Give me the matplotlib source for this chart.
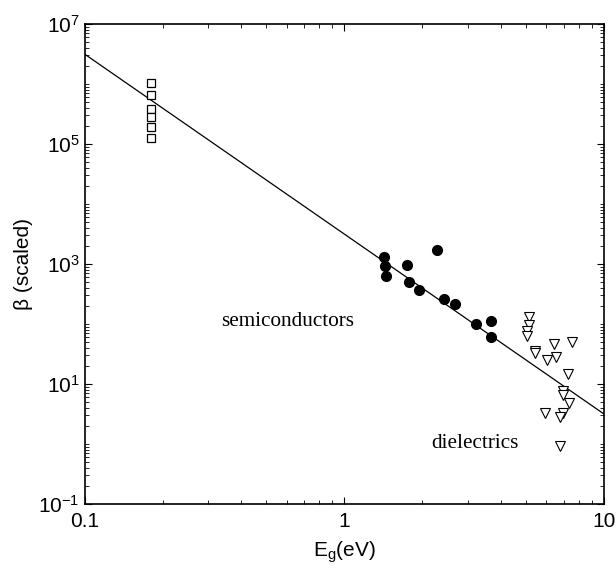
import matplotlib
matplotlib.use("Agg")
import matplotlib.pyplot as plt
from matplotlib.ticker import LogLocator, FixedLocator, NullFormatter, FuncFormatter
import numpy as np

plt.rcParams["font.family"] = ["Liberation Sans", "DejaVu Sans"]
plt.rcParams["mathtext.fontset"] = "custom"
plt.rcParams["mathtext.rm"] = "Liberation Sans"
plt.rcParams["mathtext.it"] = "Liberation Sans"
plt.rcParams["axes.unicode_minus"] = False

# Narrow-gap materials (open squares)
narrow_eg = [0.18, 0.18, 0.18, 0.18, 0.18, 0.18]
narrow_beta = [1.05e6, 6.6e5, 3.9e5, 2.8e5, 1.94e5, 1.27e5]

# Semiconductors (filled circles)
semi_eg = [1.42, 1.435, 1.445, 1.745, 2.27, 1.78, 1.935, 2.43, 2.67, 3.21, 3.66, 3.66]
semi_beta = [1325, 937, 631, 973, 1711, 495, 369, 258, 215, 101, 112, 61.4]

# Dielectrics (open down-triangles)
diel_eg = [5.13, 5.13, 5.04, 5.04, 5.42, 5.42, 6.42, 7.53, 6.02, 6.53,
           7.29, 6.93, 6.97, 7.31, 5.94, 6.97, 6.77, 6.77]
diel_beta = [132, 96, 77, 64, 35.9, 32.5, 45.9, 49.5, 25.1, 27.9,
             14.7, 7.73, 6.56, 4.88, 3.25, 3.25, 2.79, 0.93]

# Power-law fit: beta = A * Eg^n
fit_A = 3.16e3
fit_n = -3.0
fit_range = [0.1, 10]

fig = plt.figure(figsize=(6.16, 5.72), dpi=100)
ax = fig.add_axes([84.5 / 616, (572 - 504) / 572, (604 - 84.5) / 616, (504 - 24) / 572])

xf = np.logspace(np.log10(fit_range[0]), np.log10(fit_range[1]), 50)
ax.plot(xf, fit_A * xf ** fit_n, color="black", lw=0.9)

ax.plot(narrow_eg, narrow_beta, ls="none", marker="s", ms=6, mfc="white", mec="black", mew=0.9)
ax.plot(semi_eg, semi_beta, ls="none", marker="o", ms=7, mfc="black", mec="black")
ax.plot(diel_eg, diel_beta, ls="none", marker="v", ms=6.5, mfc="white", mec="black", mew=0.8)

ax.set_xscale("log")
ax.set_yscale("log")
ax.set_xlim(0.1, 10)
ax.set_ylim(1e-1, 1e7)

ax.xaxis.set_major_locator(FixedLocator([0.1, 1, 10]))
ax.xaxis.set_minor_locator(LogLocator(base=10, subs=np.arange(2, 10)))
ax.xaxis.set_major_formatter(FuncFormatter(lambda v, p: {0.1: "0.1", 1: "1", 10: "10"}.get(round(v, 3), "")))
ax.xaxis.set_minor_formatter(NullFormatter())

ax.yaxis.set_major_locator(FixedLocator([1e-1, 1e1, 1e3, 1e5, 1e7]))
ax.yaxis.set_minor_locator(LogLocator(base=10, subs=np.arange(1, 10), numticks=20))
ax.yaxis.set_major_formatter(FuncFormatter(lambda v, p: r"$10^{%d}$" % round(np.log10(v))))
ax.yaxis.set_minor_formatter(NullFormatter())

ax.tick_params(which="both", direction="in", top=True, right=True, labelsize=15, color="black")
ax.tick_params(which="major", length=5, width=0.8)
ax.tick_params(which="minor", length=3, width=0.6)
ax.tick_params(axis="x", which="major", pad=6)
for s in ax.spines.values():
    s.set_linewidth(1.2)

ax.set_xlabel(r"E$_{\mathrm{g}}$(eV)", fontsize=15, labelpad=6)
ax.set_ylabel("β (scaled)", fontsize=15, labelpad=4)

ax.text(0.337, 10 ** (7 - (322 - 24) / 60), "semiconductors", ha="left", va="center",
        family="Liberation Serif", fontsize=15.3)
ax.text(2.158, 10 ** (7 - (443 - 24) / 60), "dielectrics", ha="left", va="center",
        family="Liberation Serif", fontsize=15.3)

fig.savefig("out.png", dpi=100)
